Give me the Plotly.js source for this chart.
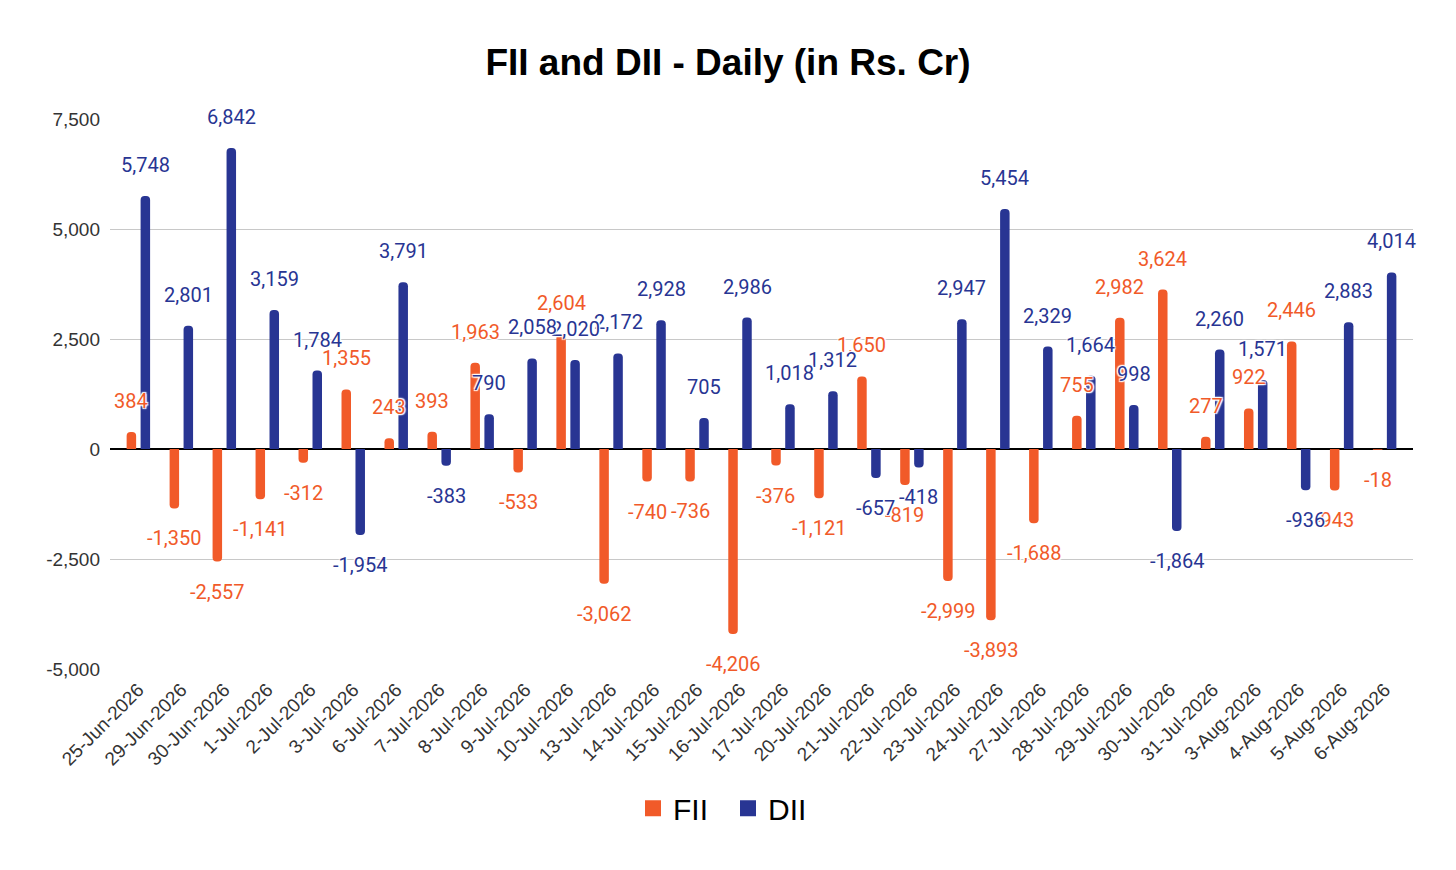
<!DOCTYPE html>
<html>
<head>
<meta charset="utf-8">
<script src="https://cdn.plot.ly/plotly-3.0.1.min.js"></script>
<style>html,body{margin:0;padding:0;background:#fff;}#chart{width:1456px;height:870px;}</style>
</head>
<body>
<div id="chart"></div>
<script>
const dates = ["25-Jun-2026","29-Jun-2026","30-Jun-2026","1-Jul-2026","2-Jul-2026","3-Jul-2026","6-Jul-2026","7-Jul-2026","8-Jul-2026","9-Jul-2026","10-Jul-2026","13-Jul-2026","14-Jul-2026","15-Jul-2026","16-Jul-2026","17-Jul-2026","20-Jul-2026","21-Jul-2026","22-Jul-2026","23-Jul-2026","24-Jul-2026","27-Jul-2026","28-Jul-2026","29-Jul-2026","30-Jul-2026","31-Jul-2026","3-Aug-2026","4-Aug-2026","5-Aug-2026","6-Aug-2026"];
const fii = [384,-1350,-2557,-1141,-312,1355,243,393,1963,-533,2604,-3062,-740,-736,-4206,-376,-1121,1650,-819,-2999,-3893,-1688,755,2982,3624,277,922,2446,-943,-18];
const dii = [5748,2801,6842,3159,1784,-1954,3791,-383,790,2058,2020,2172,2928,705,2986,1018,1312,-657,-418,2947,5454,2329,1664,998,-1864,2260,1571,-936,2883,4014];
const yTicks = [-5000,-2500,0,2500,5000,7500];

const ORANGE = '#F15A29';
const BLUE = '#283593';

const fmt = v => v.toLocaleString('en-US');

const traces = [
  {type:'bar', name:'FII', x:dates, y:fii, marker:{color:ORANGE, cornerradius:4}, showlegend:false, hoverinfo:'x+y'},
  {type:'bar', name:'DII', x:dates, y:dii, marker:{color:BLUE, cornerradius:4}, showlegend:false, hoverinfo:'x+y'},
  {type:'scatter', mode:'markers', name:'FII', x:[null], y:[null], marker:{symbol:'square', size:18, color:ORANGE}, hoverinfo:'skip'},
  {type:'scatter', mode:'markers', name:'DII', x:[null], y:[null], marker:{symbol:'square', size:18, color:BLUE}, hoverinfo:'skip'}
];

const halo = '1px 1px 1px #fff, -1px -1px 1px #fff, 1px -1px 1px #fff, -1px 1px 1px #fff, 0 0 3px #fff';
const ann = [];
dates.forEach((d,i)=>{
  ann.push({x:d, y:fii[i], xref:'x', yref:'y', text:fmt(fii[i]), showarrow:false,
    xshift:-7, yshift: fii[i]>=0 ? 31 : -30, yanchor:'middle', xanchor:'center',
    font:{family:'Roboto, sans-serif', size:20, color:ORANGE, shadow:halo}});
  ann.push({x:d, y:dii[i], xref:'x', yref:'y', text:fmt(dii[i]), showarrow:false,
    xshift:7, yshift: dii[i]>=0 ? 31 : -30, yanchor:'middle', xanchor:'center',
    font:{family:'Roboto, sans-serif', size:20, color:BLUE, shadow:halo}});
});
ann.reverse();

const layout = {
  width:1456, height:870, autosize:false,
  paper_bgcolor:'#fff', plot_bgcolor:'#fff',
  margin:{l:110, r:43, t:119, b:201, autoexpand:false},
  title:{text:'<b>FII and DII - Daily (in Rs. Cr)</b>', x:0.5, xref:'container', xanchor:'center',
    y:1-62/870, yref:'container', yanchor:'middle',
    font:{family:'Liberation Sans, Arial, sans-serif', size:37, color:'#000'}},
  barmode:'group', bargap:0.35, bargroupgap:0.32,
  xaxis:{type:'category', range:[-0.66, 29.66], tickangle:-45, showgrid:false, ticks:'', automargin:false,
    ticklabelstandoff:5,
    tickfont:{family:'Liberation Sans, Arial, sans-serif', size:19, color:'#333'}, showline:false, zeroline:false},
  yaxis:{range:[-5000,7500], tickvals:yTicks, ticktext:yTicks.map(fmt), showgrid:true, gridcolor:'#c8c8c8', gridwidth:1,
    automargin:false,
    zeroline:true, zerolinecolor:'#000', zerolinewidth:1.5, ticks:'', ticklabelstandoff:9,
    tickfont:{family:'Liberation Sans, Arial, sans-serif', size:19, color:'#333'}, showline:false},
  legend:{orientation:'h', x:(728-110)/1303, xanchor:'center', y:-0.253, yanchor:'middle',
    entrywidth:50, entrywidthmode:'pixels',
    font:{family:'Liberation Sans, Arial, sans-serif', size:30, color:'#000'}, traceorder:'normal'},
  annotations:ann,
  showlegend:true
};

Plotly.newPlot('chart', traces, layout, {displayModeBar:false, staticPlot:true});
</script>
</body>
</html>
